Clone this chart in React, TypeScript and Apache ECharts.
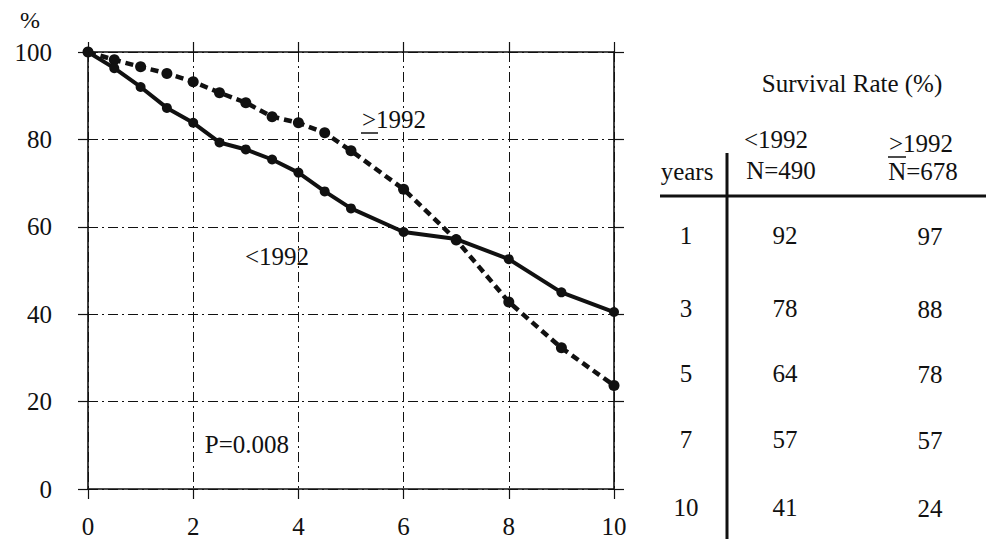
import React, { useEffect, useRef } from "react";
import * as echarts from "echarts";

const timeX = [0, 0.5, 1, 1.5, 2, 2.5, 3, 3.5, 4, 4.5, 5, 6, 7, 8, 9, 10];
const before1992 = [100, 96.3, 92, 87.2, 83.8, 79.3, 77.7, 75.4, 72.4, 68.1, 64.2, 58.8, 57.2, 52.6, 45, 40.5];
const after1992 = [100, 98.2, 96.6, 95.1, 93.2, 90.7, 88.4, 85.2, 83.8, 81.5, 77.4, 68.6, 57, 42.8, 32.3, 23.7];

const tableYears = ["1", "3", "5", "7", "10"];
const tableBefore = ["92", "78", "64", "57", "41"];
const tableAfter = ["97", "88", "78", "57", "24"];

const FONT = "Liberation Serif";
const FS = 25;
const INK = "#111";

export default function App() {
  const ref = useRef<HTMLDivElement>(null);
  useEffect(() => {
    if (!ref.current) return;
    const chart = echarts.init(ref.current, undefined, { renderer: "svg" });
    const dashDot = [10, 4, 2, 4];
    const txt = (text: string, x: number, y: number, size = FS, align = "center") => ({
      type: "text",
      style: { text, x, y, fontSize: size, fontFamily: FONT, fill: INK, align, verticalAlign: "middle" },
      z: 10,
    });
    const ln = (x1: number, y1: number, x2: number, y2: number, w: number) => ({
      type: "line",
      shape: { x1, y1, x2, y2 },
      style: { stroke: INK, lineWidth: w },
      z: 10,
    });
    const rowYs = [235, 308, 373, 439, 507];
    const tableEls: any[] = [];
    tableYears.forEach((t, i) => tableEls.push(txt(t, 686, rowYs[i])));
    tableBefore.forEach((t, i) => tableEls.push(txt(t, 785, rowYs[i])));
    tableAfter.forEach((t, i) => tableEls.push(txt(t, 930, rowYs[i] + 1)));

    const axisCommon = {
      type: "value",
      min: 0,
      axisLine: { show: true, onZero: false, lineStyle: { color: INK, width: 1.6 } },
      axisTick: { show: true, inside: false, length: 10, lineStyle: { color: INK, width: 1.2 } },
    };

    chart.setOption({
      animation: false,
      backgroundColor: "#fff",
      textStyle: { fontFamily: FONT },
      grid: { left: 88, top: 52, width: 526, height: 439, containLabel: false },
      xAxis: [
        {
          ...axisCommon,
          position: "bottom",
          max: 10,
          interval: 2,
          axisLabel: { show: true, fontSize: FS, fontFamily: FONT, color: INK, margin: 25 },
          splitLine: { show: true, lineStyle: { color: INK, width: 1, type: dashDot } },
        },
        {
          ...axisCommon,
          position: "top",
          max: 10,
          interval: 2,
          axisLabel: { show: false },
          splitLine: { show: false },
        },
      ],
      yAxis: [
        {
          ...axisCommon,
          position: "left",
          max: 100,
          interval: 20,
          axisLabel: { show: true, fontSize: FS, fontFamily: FONT, color: INK, margin: 36 },
          splitLine: { show: true, lineStyle: { color: INK, width: 1, type: dashDot } },
        },
        {
          ...axisCommon,
          position: "right",
          max: 100,
          interval: 20,
          axisLabel: { show: false },
          splitLine: { show: false },
        },
      ],
      series: [
        {
          name: "<1992",
          type: "line",
          data: timeX.map((x, i) => [x, before1992[i]]),
          symbol: "circle",
          symbolSize: 10,
          itemStyle: { color: "#111" },
          lineStyle: { color: "#111", width: 4 },
          z: 5,
        },
        {
          name: ">=1992",
          type: "line",
          data: timeX.map((x, i) => [x, after1992[i]]),
          symbol: "circle",
          symbolSize: 11,
          itemStyle: { color: "#111" },
          lineStyle: { color: "#111", width: 4.5, type: [8, 5] },
          z: 4,
        },
      ],
      graphic: [
        txt("%", 30, 20, 24),
        txt(">1992", 394, 119),
        ln(361, 133, 378, 133, 1.5),
        txt("<1992", 277, 256),
        txt("P=0.008", 247, 444),
        txt("Survival Rate (%)", 852, 83),
        txt("<1992", 776, 139),
        txt("N=490", 781, 170),
        txt(">1992", 921, 143),
        ln(888, 157, 906, 157, 1.5),
        txt("N=678", 923, 171),
        txt("years", 687, 171),
        ln(660, 196, 986, 196, 3),
        ln(727, 153, 727, 539, 3),
        ...tableEls,
      ],
    });
    return () => chart.dispose();
  }, []);
  return (
    <div
      ref={ref}
      style={{ position: "fixed", left: 0, top: 0, width: 986, height: 539, background: "#fff" }}
    />
  );
}
